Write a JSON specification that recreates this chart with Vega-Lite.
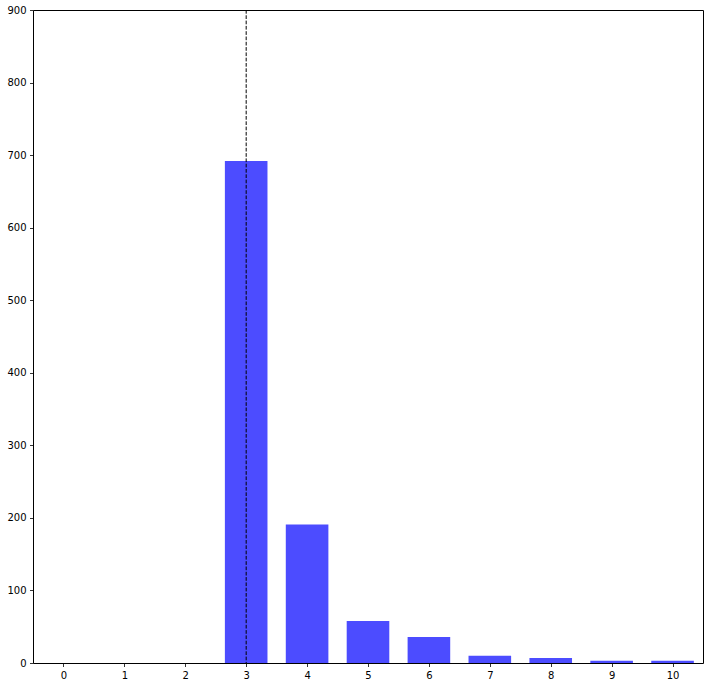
{
  "$schema": "https://vega.github.io/schema/vega-lite/v6.json",
  "autosize": {"type": "none"},
  "padding": {"left": 33, "top": 10, "right": 6, "bottom": 24},
  "width": 670,
  "height": 653,
  "background": "white",
  "config": {
    "view": {"stroke": "black", "strokeWidth": 1},
    "axis": {
      "grid": false,
      "domain": false,
      "tickColor": "black",
      "tickSize": 3.5,
      "tickWidth": 0.8,
      "labelFont": "DejaVu Sans",
      "labelFontSize": 10,
      "labelColor": "black",
      "labelPadding": 3.5,
      "title": null
    }
  },
  "datasets": {
    "bars": [
      {"k": 0, "count": 0},
      {"k": 1, "count": 0},
      {"k": 2, "count": 0},
      {"k": 3, "count": 692},
      {"k": 4, "count": 191},
      {"k": 5, "count": 58},
      {"k": 6, "count": 36},
      {"k": 7, "count": 10},
      {"k": 8, "count": 7},
      {"k": 9, "count": 3},
      {"k": 10, "count": 3}
    ],
    "marker": [{"k": 3}]
  },
  "layer": [
    {
      "data": {"name": "bars"},
      "mark": {"type": "bar", "color": "blue", "opacity": 0.7, "size": 42.6},
      "encoding": {
        "x": {
          "field": "k",
          "type": "quantitative",
          "scale": {"domain": [-0.5, 10.5], "nice": false, "zero": false, "padding": 0},
          "axis": {"values": [0, 1, 2, 3, 4, 5, 6, 7, 8, 9, 10], "format": "d"}
        },
        "y": {
          "field": "count",
          "type": "quantitative",
          "scale": {"domain": [0, 900], "nice": false, "padding": 0},
          "axis": {"values": [0, 100, 200, 300, 400, 500, 600, 700, 800, 900]}
        }
      }
    },
    {
      "data": {"name": "marker"},
      "mark": {"type": "rule", "color": "black", "strokeWidth": 1, "strokeDash": [3.7, 1.6]},
      "encoding": {
        "x": {"field": "k", "type": "quantitative"}
      }
    }
  ]
}
